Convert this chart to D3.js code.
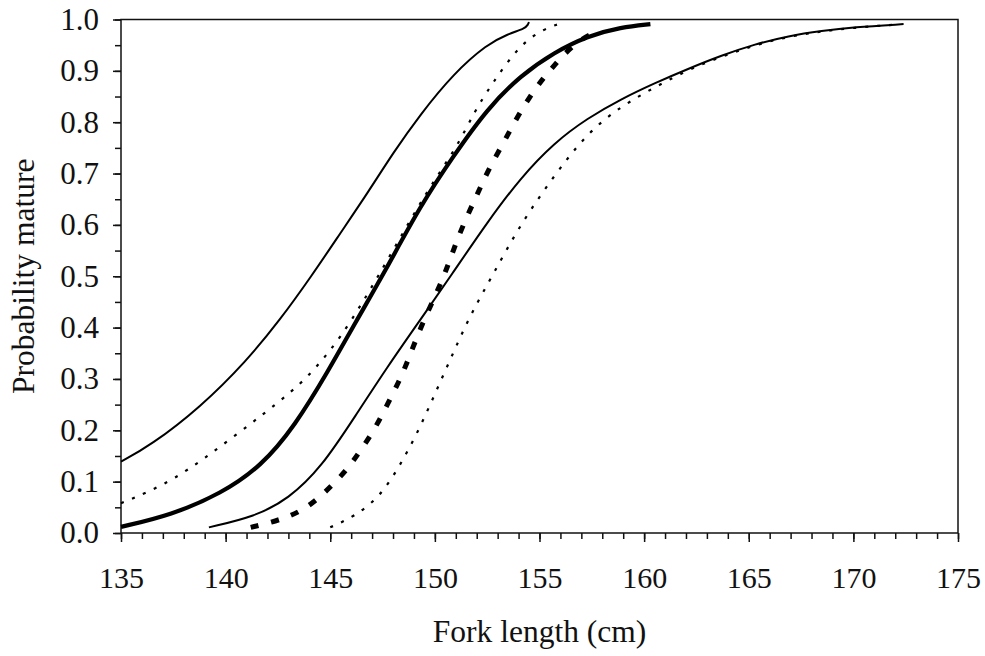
<!DOCTYPE html>
<html>
<head>
<meta charset="utf-8">
<script src="https://cdn.jsdelivr.net/npm/d3@7"></script>
<style>
  body { margin: 0; background: #fff; }
  svg { display: block; }
  svg text { font-family: "Liberation Serif", "Times New Roman", serif; }
</style>
</head>
<body>
<div id="chart"></div>
<script>
// curves: [fork length (cm), probability mature]
var upperSolid = [[135, 0.139], [136.4, 0.17], [138.8, 0.245], [141.0, 0.335], [142.6, 0.415],
    [144.1, 0.5], [145.5, 0.585], [146.8, 0.663], [148.0, 0.74], [149.3, 0.815], [150.9, 0.895],
    [152.5, 0.952], [153.5, 0.972], [154.3, 0.982], [154.45, 0.99], [154.5, 0.995]];
var upperDotted = [[135, 0.058], [137.5, 0.10], [140.4, 0.188], [143.3, 0.278], [144.5, 0.33],
    [145.5, 0.382], [146.6, 0.452], [148.0, 0.55], [149.6, 0.665], [151.1, 0.754], [151.9, 0.822],
    [152.7, 0.872], [153.2, 0.902], [153.8, 0.934], [154.4, 0.96], [155.2, 0.981], [155.9, 0.991]];
var meanSolid = [[135, 0.012], [137.4, 0.035], [139.8, 0.077], [141.7, 0.13], [143.3, 0.208],
    [144.9, 0.315], [146.2, 0.41], [147.6, 0.508], [149.3, 0.637], [150.9, 0.735], [152.5, 0.826],
    [154.1, 0.891], [155.7, 0.936], [157.3, 0.968], [158.9, 0.985], [160.3, 0.991]];
var lowerSolid = [[139.2, 0.011], [141.4, 0.032], [143.0, 0.066], [144.6, 0.129], [146.2, 0.228],
    [147.75, 0.325], [149.3, 0.415], [150.8, 0.503], [152.5, 0.605], [154.1, 0.692], [155.7, 0.76],
    [157.3, 0.808], [158.9, 0.845], [160.5, 0.876], [162.1, 0.904], [163.7, 0.93], [165.3, 0.952],
    [166.9, 0.968], [168.5, 0.978], [170.0, 0.985], [172.4, 0.991]];
var meanDashed = [[141.2, 0.011], [142.2, 0.021], [143.1, 0.033], [143.9, 0.05], [144.7, 0.077],
    [145.4, 0.106], [145.9, 0.129], [146.4, 0.158], [147.1, 0.2], [147.75, 0.252], [148.4, 0.304],
    [148.9, 0.356], [149.4, 0.408], [150.0, 0.46], [150.5, 0.507], [150.9, 0.553], [151.4, 0.605],
    [152.0, 0.657], [152.5, 0.703], [153.2, 0.754], [153.8, 0.8], [154.5, 0.848], [155.2, 0.887],
    [155.7, 0.91], [156.2, 0.934], [157.0, 0.962], [157.5, 0.972]];
var lowerDotted = [[145.0, 0.011], [146.15, 0.032], [147.4, 0.071], [148.4, 0.136], [149.3, 0.206],
    [150.1, 0.28], [150.9, 0.353], [151.7, 0.425], [152.8, 0.505], [154.1, 0.602], [155.7, 0.696],
    [157.3, 0.78], [158.9, 0.831], [160.5, 0.868], [162.1, 0.902], [163.7, 0.928], [165.3, 0.95],
    [166.9, 0.967], [168.5, 0.977], [170.0, 0.984], [172.0, 0.99]];

var xTicks = [135, 140, 145, 150, 155, 160, 165, 170, 175];
var yTicks = [0, 0.1, 0.2, 0.3, 0.4, 0.5, 0.6, 0.7, 0.8, 0.9, 1.0];

var width = 985, height = 656;
var margin = { top: 19.5, right: 27, bottom: 123, left: 121 };
var serif = '"Liberation Serif", "Times New Roman", serif';

var svg = d3.select('#chart').append('svg')
    .attr('width', width)
    .attr('height', height);

var x = d3.scaleLinear().domain([135, 175]).range([margin.left, width - margin.right]);
var y = d3.scaleLinear().domain([0, 1]).range([height - margin.bottom, margin.top]);

// frame
svg.append('rect')
    .attr('x', x(135))
    .attr('y', y(1))
    .attr('width', x(175) - x(135))
    .attr('height', y(0) - y(1))
    .attr('fill', 'none')
    .attr('stroke', '#111')
    .attr('stroke-width', 1.5);

// x axis: minor ticks every 1 cm, labelled ticks every 5
var xAxis = svg.append('g').attr('transform', 'translate(0,' + y(0) + ')');
xAxis.call(d3.axisBottom(x).ticks(40).tickSize(6).tickFormat(''))
    .call(function (g) { g.select('.domain').remove(); });
xAxis.append('g')
    .call(d3.axisBottom(x).tickValues(xTicks).tickSize(9).tickPadding(25).tickFormat(d3.format('d')))
    .call(function (g) { g.select('.domain').remove(); })
    .selectAll('text')
    .attr('fill', '#111')
    .style('font-family', serif)
    .style('font-size', '30px');
xAxis.selectAll('line').attr('stroke', '#111').attr('stroke-width', 1.5);

// y axis: minor ticks every 0.05, labelled every 0.1
var yAxis = svg.append('g').attr('transform', 'translate(' + x(135) + ',0)');
yAxis.call(d3.axisLeft(y).ticks(20).tickSize(6).tickFormat(''))
    .call(function (g) { g.select('.domain').remove(); });
yAxis.append('g')
    .call(d3.axisLeft(y).tickValues(yTicks).tickSize(8).tickPadding(14).tickFormat(d3.format('.1f')))
    .call(function (g) { g.select('.domain').remove(); })
    .selectAll('text')
    .attr('fill', '#111')
    .style('font-family', serif)
    .style('font-size', '31px');
yAxis.selectAll('line').attr('stroke', '#111').attr('stroke-width', 1.5);

// axis titles
svg.append('text')
    .attr('x', (x(135) + x(175)) / 2)
    .attr('y', 642)
    .attr('text-anchor', 'middle')
    .attr('fill', '#111')
    .style('font-size', '31.5px')
    .text('Fork length (cm)');

svg.append('text')
    .attr('transform', 'translate(34,' + ((y(0) + y(1)) / 2) + ') rotate(-90)')
    .attr('text-anchor', 'middle')
    .attr('fill', '#111')
    .style('font-size', '31.5px')
    .text('Probability mature');

// curves
var line = d3.line()
    .x(function (d) { return x(d[0]); })
    .y(function (d) { return y(d[1]); })
    .curve(d3.curveBasis);

var curves = [
    { data: upperDotted, width: 2.2, dash: '3,9' },
    { data: lowerDotted, width: 2.2, dash: '3,9' },
    { data: upperSolid, width: 2, dash: null },
    { data: lowerSolid, width: 2, dash: null },
    { data: meanDashed, width: 5, dash: '8,13' },
    { data: meanSolid, width: 4.2, dash: null }
];

svg.append('g').selectAll('path')
    .data(curves)
    .join('path')
    .attr('d', function (d) { return line(d.data); })
    .attr('fill', 'none')
    .attr('stroke', '#000')
    .attr('stroke-width', function (d) { return d.width; })
    .attr('stroke-dasharray', function (d) { return d.dash; });
</script>
</body>
</html>
